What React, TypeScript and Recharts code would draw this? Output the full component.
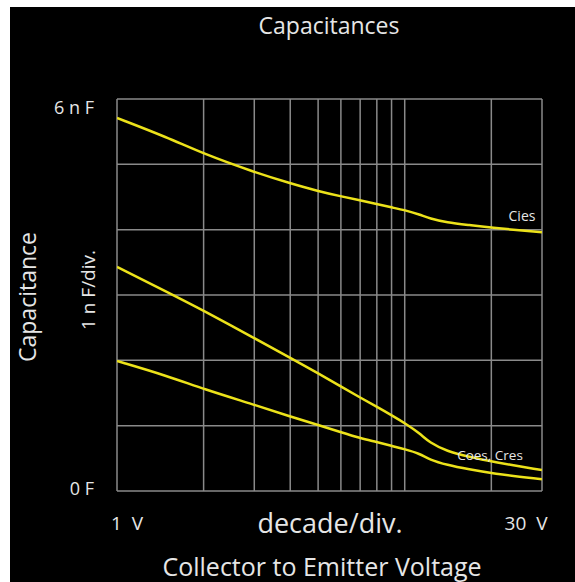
import { LineChart, Line, XAxis, YAxis, ReferenceLine } from 'recharts'

const voltage = [1, 1.5, 2, 3, 4, 5, 6, 7, 8, 9, 10, 11.3, 12.2, 14, 16.8, 20, 30]
const cies = [5.71, 5.41, 5.16, 4.88, 4.71, 4.59, 4.51, 4.45, 4.39, 4.34, 4.3, 4.23, 4.17, 4.11, 4.07, 4.03, 3.96]
const coes = [3.43, 3.04, 2.76, 2.34, 2.04, 1.8, 1.6, 1.43, 1.29, 1.16, 1.04, 0.88, 0.74, 0.61, 0.52, 0.45, 0.32]
const cres = [1.99, 1.76, 1.56, 1.32, 1.14, 1.01, 0.9, 0.81, 0.75, 0.69, 0.64, 0.57, 0.48, 0.4, 0.33, 0.27, 0.18]

const xGrid = [1, 2, 3, 4, 5, 6, 7, 8, 9, 10, 20, 30]
const yGrid = [0, 1, 2, 3, 4, 5, 6]

const data = voltage.map((v, i) => ({ v, cies: cies[i], coes: coes[i], cres: cres[i] }))

const GRID = '#8a8a8a'
const YELLOW = '#ece21a'
const FONT = '"Open Sans", "Noto Sans", sans-serif'

// place text centred on a point of the black panel
function Txt({ x, y, size, children, rotate }: { x: number; y: number; size: number; children: string; rotate?: boolean }) {
  return (
    <div
      style={{
        position: 'absolute',
        left: x,
        top: y,
        transform: `translate(-50%, -50%)${rotate ? ' rotate(-90deg)' : ''}`,
        color: '#e6e6e6',
        fontSize: size,
        fontFamily: FONT,
        whiteSpace: 'pre',
        lineHeight: 1,
      }}
    >
      {children}
    </div>
  )
}

export default function App() {
  return (
    <div style={{ position: 'absolute', left: 10, top: 7, width: 565, height: 575, background: '#000' }}>
      <LineChart width={565} height={575} data={data} margin={{ top: 92, right: 33, bottom: 91, left: 107 }}>
        <XAxis dataKey="v" type="number" scale="log" domain={[1, 30]} hide allowDataOverflow />
        <YAxis type="number" domain={[0, 6]} hide />
        {yGrid.map(y => (
          <ReferenceLine key={'y' + y} y={y} stroke={GRID} strokeWidth={1.5} />
        ))}
        {xGrid.map(x => (
          <ReferenceLine key={'x' + x} x={x} stroke={GRID} strokeWidth={1.5} />
        ))}
        <Line dataKey="cies" type="basis" stroke={YELLOW} strokeWidth={2.5} dot={false} isAnimationActive={false} />
        <Line dataKey="coes" type="basis" stroke={YELLOW} strokeWidth={2.5} dot={false} isAnimationActive={false} />
        <Line dataKey="cres" type="basis" stroke={YELLOW} strokeWidth={2.5} dot={false} isAnimationActive={false} />
      </LineChart>
      <Txt x={319} y={18} size={23}>Capacitances</Txt>
      <Txt x={64} y={100} size={18}>6 n F</Txt>
      <Txt x={72} y={481} size={18}>0 F</Txt>
      <Txt x={117} y={516} size={19}>1  V</Txt>
      <Txt x={516} y={516} size={19}>30  V</Txt>
      <Txt x={320} y={515} size={27}>decade/div.</Txt>
      <Txt x={312} y={559} size={25}>Collector to Emitter Voltage</Txt>
      <Txt x={17} y={290} size={23} rotate>Capacitance</Txt>
      <Txt x={78} y={283} size={19} rotate>1 n F/div.</Txt>
      <Txt x={512} y={209} size={14}>Cies</Txt>
      <Txt x={480} y={449} size={13.5}>Coes, Cres</Txt>
    </div>
  )
}
